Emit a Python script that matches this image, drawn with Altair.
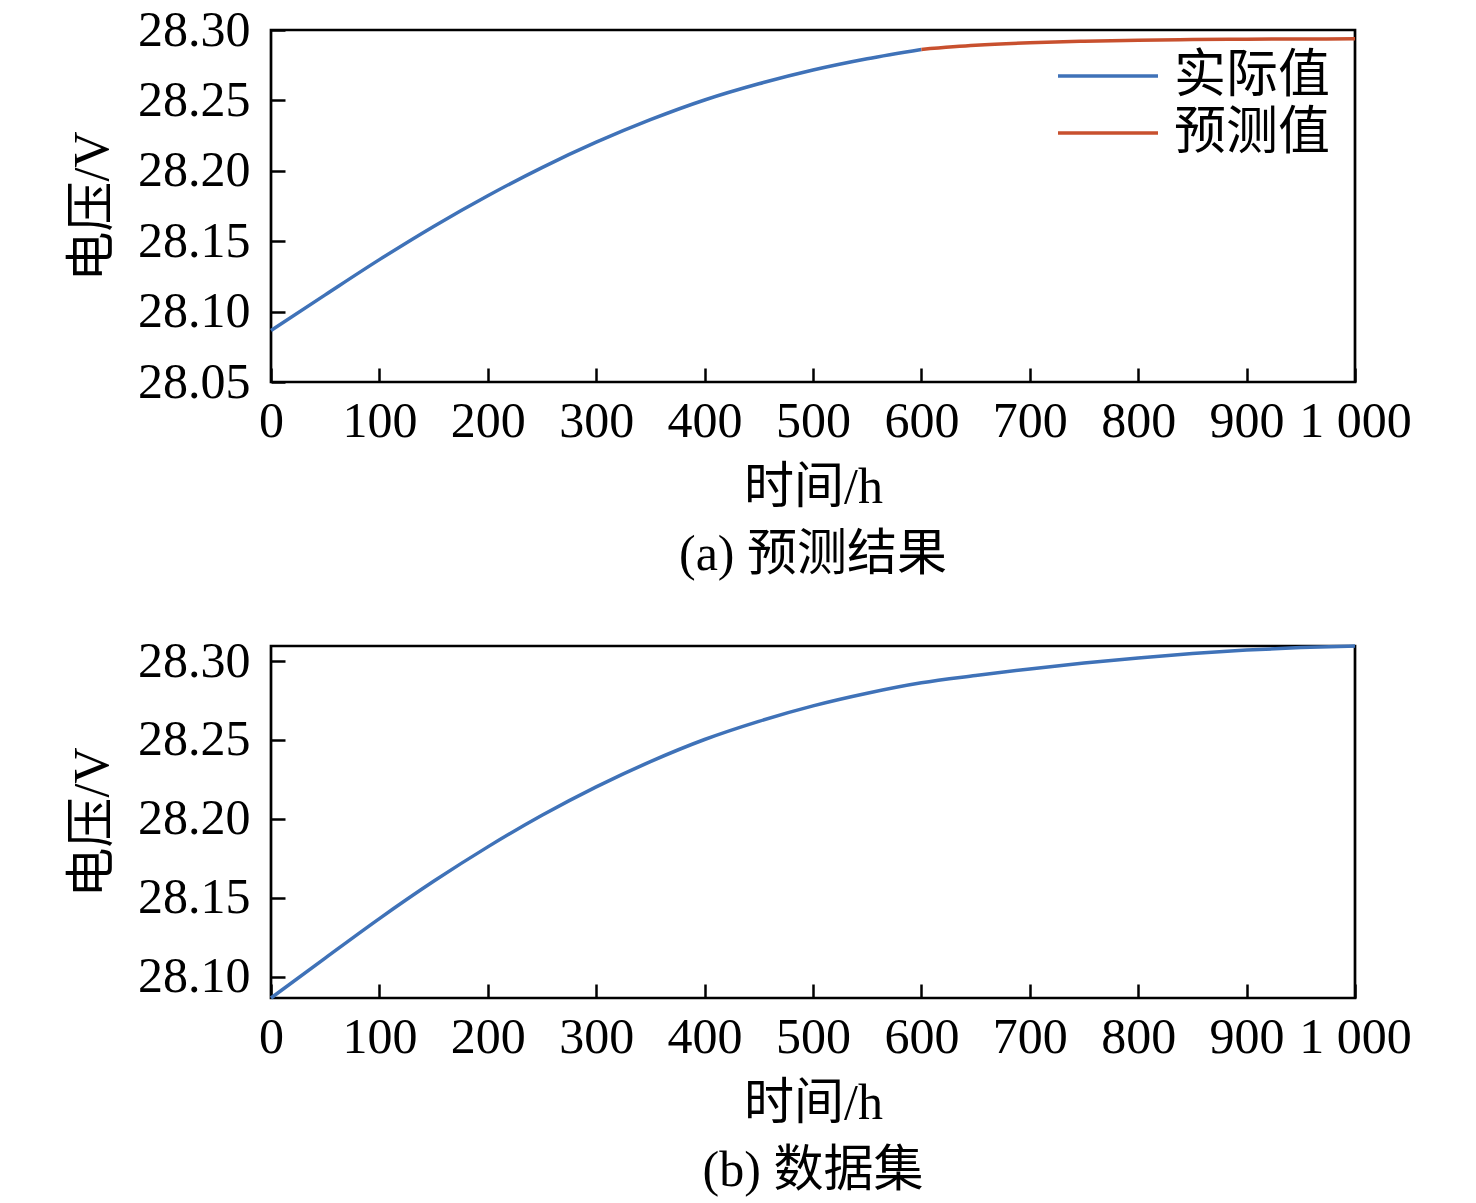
import altair as alt
import pandas as pd

# ---------------- data ----------------
hours_actual = [0, 50, 100, 150, 200, 250, 300, 350, 400, 450, 500, 550, 600]
volt_actual = [28.0866, 28.1119, 28.1369, 28.1605, 28.1823, 28.2023, 28.2203,
               28.2363, 28.2503, 28.2618, 28.2716, 28.2796, 28.2862]

hours_pred = [600, 650, 700, 750, 800, 850, 900, 950, 1000]
volt_pred = [28.2862, 28.2891, 28.2909, 28.2920, 28.2927, 28.2932, 28.2935,
             28.2936, 28.2937]

hours_all = [0, 50, 100, 150, 200, 250, 300, 350, 400, 450, 500, 550, 600,
             650, 700, 750, 800, 850, 900, 950, 1000]
volt_all = [28.0866, 28.1119, 28.1369, 28.1605, 28.1823, 28.2023, 28.2203,
            28.2363, 28.2503, 28.2618, 28.2716, 28.2796, 28.2862,
            28.2908, 28.2950, 28.2987, 28.3019, 28.3047, 28.3069, 28.3085,
            28.3095]

series_names = ["实际值", "预测值"]
series_colors = ["#3F72B8", "#C8502E"]
x_ticks = [0, 100, 200, 300, 400, 500, 600, 700, 800, 900, 1000]
y_ticks_a = [28.05, 28.10, 28.15, 28.20, 28.25, 28.30]
y_ticks_b = [28.10, 28.15, 28.20, 28.25, 28.30]
y_domain_a = [28.05, 28.30]
panel_titles = ["(a) 预测结果", "(b) 数据集"]
x_title = "时间/h"
y_title = "电压/V"

FONT = "Liberation Serif, Noto Sans CJK SC"
FS = 50
TICK = 14
W, H = 1084, 352

df_a = pd.DataFrame({
    "t": hours_actual + hours_pred,
    "v": volt_actual + volt_pred,
    "s": [series_names[0]] * len(hours_actual) + [series_names[1]] * len(hours_pred),
})
df_b = pd.DataFrame({"t": hours_all, "v": volt_all, "s": series_names[0]})

color_scale = alt.Scale(domain=series_names, range=series_colors)


def x_lab_axis():
    return alt.Axis(values=x_ticks, ticks=False, domain=False, grid=False,
                    labelExpr="datum.value >= 1000 ? '1 000' : datum.label",
                    labelFontSize=FS, labelFont=FONT, labelColor="black",
                    labelPadding=14, labelFlush=False,
                    title=x_title, titleFontSize=FS, titleFont=FONT,
                    titleFontWeight="normal", titleColor="black", titlePadding=16)


def x_tick_axis():
    return alt.Axis(values=x_ticks, ticks=True, tickSize=TICK, tickWidth=2.5,
                    tickColor="black", labels=False, domain=False, grid=False,
                    orient="bottom", offset=-TICK, title=None)


def y_lab_axis(ticks):
    return alt.Axis(values=ticks, ticks=False, domain=False, grid=False,
                    format=".2f", labelFontSize=FS, labelFont=FONT,
                    labelColor="black", labelPadding=21, labelFlush=False,
                    title=y_title, titleFontSize=FS, titleFont=FONT,
                    titleFontWeight="normal", titleColor="black", titlePadding=20)


def y_tick_axis(ticks):
    return alt.Axis(values=ticks, ticks=True, tickSize=TICK, tickWidth=2.5,
                    tickColor="black", labels=False, domain=False, grid=False,
                    orient="left", offset=-TICK, title=None)


def panel(df, y_domain, y_ticks, title, legend):
    xs = alt.Scale(domain=[0, 1000], nice=False, zero=False)
    ys = alt.Scale(domain=y_domain, nice=False, zero=False)
    if legend:
        leg = alt.Legend(orient="none", legendX=810, legendY=19, title=None,
                         symbolType="M-2,0H2", symbolSize=2500,
                         symbolStrokeWidth=3.5, labelFontSize=52, labelFont=FONT,
                         labelColor="black", labelOffset=39, padding=0,
                         rowPadding=4)
        color = alt.Color("s:N", scale=color_scale, legend=leg)
    else:
        color = alt.Color("s:N", scale=color_scale, legend=None)
    main = alt.Chart(df).mark_line(strokeWidth=3.5, interpolate="monotone").encode(
        x=alt.X("t:Q", scale=xs, axis=x_lab_axis()),
        y=alt.Y("v:Q", scale=ys, axis=y_lab_axis(y_ticks)),
        color=color,
        detail="s:N",
    )
    ticks = alt.Chart(df).mark_line(opacity=0).encode(
        x=alt.X("t:Q", scale=xs, axis=x_tick_axis()),
        y=alt.Y("v:Q", scale=ys, axis=y_tick_axis(y_ticks)),
        detail="s:N",
    )
    return alt.layer(main, ticks).resolve_axis(x="independent", y="independent").properties(
        width=W, height=H,
        title=alt.TitleParams(title, orient="bottom", fontSize=FS, font=FONT,
                              fontWeight="normal", color="black", offset=18,
                              anchor="middle", frame="group"),
    )


top = panel(df_a, y_domain_a, y_ticks_a, panel_titles[0], True)
bottom = panel(df_b, [min(volt_all), max(volt_all)], y_ticks_b, panel_titles[1], False)

chart = alt.vconcat(top, bottom, spacing=52).properties(
    padding={"left": 58, "top": -5, "right": 10, "bottom": 0},
    background="white",
).configure_view(stroke="black", strokeWidth=2.7)

chart.save("out.html", embed_options={"renderer": "svg", "actions": False})
